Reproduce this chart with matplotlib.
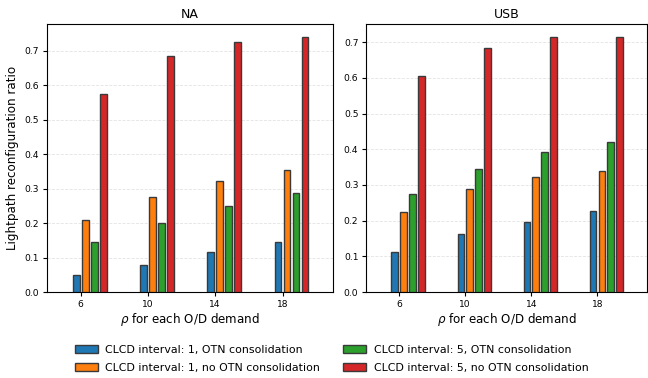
import matplotlib
matplotlib.use("Agg")
import matplotlib.pyplot as plt
import numpy as np

rho = [6, 10, 14, 18]
labels = ["CLCD interval: 1, OTN consolidation",
          "CLCD interval: 1, no OTN consolidation",
          "CLCD interval: 5, OTN consolidation",
          "CLCD interval: 5, no OTN consolidation"]
colors = ["#1f77b4", "#ff7f0e", "#2ca02c", "#d62728"]

na_c1_otn = [0.049, 0.079, 0.116, 0.145]
na_c1_no = [0.209, 0.275, 0.322, 0.353]
na_c5_otn = [0.145, 0.201, 0.249, 0.286]
na_c5_no = [0.573, 0.683, 0.725, 0.740]

usb_c1_otn = [0.113, 0.162, 0.196, 0.228]
usb_c1_no = [0.224, 0.288, 0.322, 0.339]
usb_c5_otn = [0.275, 0.344, 0.391, 0.419]
usb_c5_no = [0.605, 0.683, 0.715, 0.715]

fig = plt.figure(figsize=(6.48, 3.78), dpi=100)
ax1 = fig.add_axes([0.0725, 0.2275, 0.4415, 0.709])
ax2 = fig.add_axes([0.565, 0.2275, 0.4335, 0.709])

def draw(ax, series, title, ylabel=None):
    x = np.array(rho, dtype=float)
    step = 0.535
    width = 0.4
    handles = []
    for i, (vals, c, lab) in enumerate(zip(series, colors, labels)):
        h = ax.bar(x + (i - 0.5) * step, vals, width, color=c, label=lab,
                   edgecolor="#3a3a3a", linewidth=1.0, zorder=3)
        handles.append(h)
    ax.set_xticks(rho)
    ax.set_xlim(4.0, 21.0)
    ax.tick_params(axis="both", labelsize=6.6, length=3, pad=2.5)
    ax.set_title(title, fontsize=9, pad=4)
    ax.set_xlabel(r"$\rho$ for each O/D demand", fontsize=8.6, labelpad=2)
    if ylabel:
        ax.set_ylabel(ylabel, fontsize=8.6, labelpad=4)
    ax.yaxis.grid(True, linestyle="--", color="#e3e3e3", linewidth=0.6, zorder=0)
    ax.set_axisbelow(True)
    return handles

h = draw(ax1, [na_c1_otn, na_c1_no, na_c5_otn, na_c5_no], "NA",
         "Lightpath reconfiguration ratio")
draw(ax2, [usb_c1_otn, usb_c1_no, usb_c5_otn, usb_c5_no], "USB")

fig.legend(handles=h, labels=labels, loc="lower center", ncol=2,
           bbox_to_anchor=(0.512, -0.012), frameon=False, fontsize=7.9,
           columnspacing=2.1, handlelength=2.1, handletextpad=0.65,
           labelspacing=0.7)

fig.savefig("out.png", dpi=100)
